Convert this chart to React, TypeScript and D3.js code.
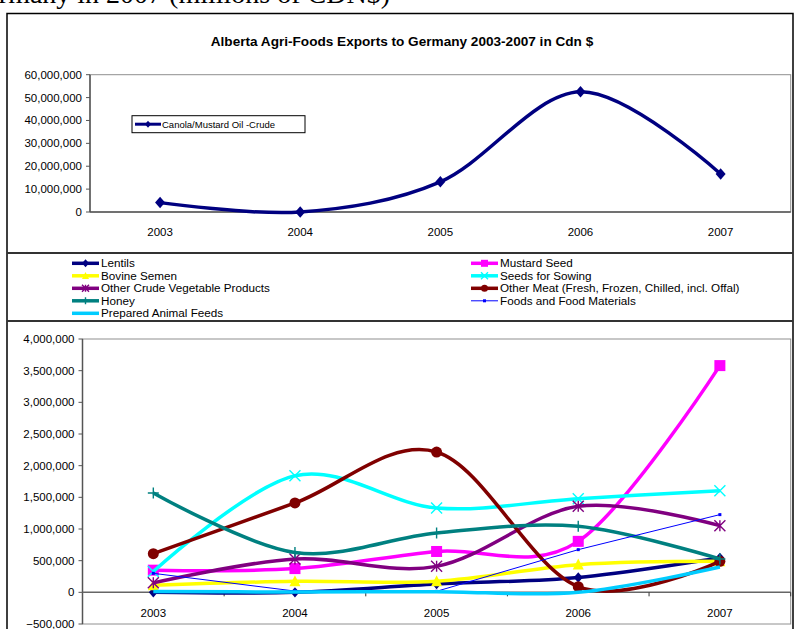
import React from "react";
import * as d3 from "d3";

const years = ["2003", "2004", "2005", "2006", "2007"];
const canola = [4100000, 0, 13200000, 52500000, 16600000];
const lentils = [0, 0, 130000, 235000, 545000];
const mustard = [350000, 375000, 645000, 805000, 3580000];
const bovine = [110000, 174000, 174000, 437000, 490000];
const seeds = [330000, 1842000, 1332000, 1479000, 1605000];
const otherCrude = [150000, 527000, 410000, 1358000, 1053000];
const otherMeat = [610000, 1411000, 2215000, 90000, 490000];
const honey = [1569000, 630000, 937000, 1042000, 527000];
const foods = [300000, 20000, 16000, 674000, 1227000];
const prepared = [15000, 5000, 10000, 0, 400000];

const topTicks = [0, 10000000, 20000000, 30000000, 40000000, 50000000, 60000000];
const bottomTicks = [-500000, 0, 500000, 1000000, 1500000, 2000000, 2500000, 3000000, 3500000, 4000000];

type Series = { name: string; values: number[]; color: string; width: number; marker: string; smooth: boolean; col: number; row: number };

const series: Series[] = [
  { name: "Lentils", values: lentils, color: "#000080", width: 3.5, marker: "diamond", smooth: true, col: 0, row: 0 },
  { name: "Mustard Seed", values: mustard, color: "#FF00FF", width: 3.5, marker: "square", smooth: true, col: 1, row: 0 },
  { name: "Bovine Semen", values: bovine, color: "#FFFF00", width: 3.5, marker: "triangle", smooth: true, col: 0, row: 1 },
  { name: "Seeds for Sowing", values: seeds, color: "#00FFFF", width: 3.5, marker: "x", smooth: true, col: 1, row: 1 },
  { name: "Other Crude Vegetable Products", values: otherCrude, color: "#800080", width: 3.5, marker: "asterisk", smooth: true, col: 0, row: 2 },
  { name: "Other Meat (Fresh, Frozen, Chilled, incl. Offal)", values: otherMeat, color: "#800000", width: 3.5, marker: "circle", smooth: true, col: 1, row: 2 },
  { name: "Honey", values: honey, color: "#008080", width: 3.5, marker: "plus", smooth: true, col: 0, row: 3 },
  { name: "Foods and Food Materials", values: foods, color: "#0000FF", width: 1, marker: "dot", smooth: false, col: 1, row: 3 },
  { name: "Prepared Animal Feeds", values: prepared, color: "#00CCFF", width: 3.5, marker: "none", smooth: true, col: 0, row: 4 },
];

const FONT = "'Liberation Sans', Arial, sans-serif";
const fmt = d3.format(",");

function Marker({ type, x, y, s, color }: { type: string; x: number; y: number; s: number; color: string }) {
  const h = s / 2;
  switch (type) {
    case "diamond":
      return <path d={`M${x},${y - h * 1.15}L${x + h},${y}L${x},${y + h * 1.15}L${x - h},${y}Z`} fill={color} />;
    case "square":
      return <rect x={x - h} y={y - h} width={s} height={s} fill={color} />;
    case "triangle":
      return <path d={`M${x},${y - h * 1.1}L${x + h},${y + h * 0.9}L${x - h},${y + h * 0.9}Z`} fill={color} />;
    case "circle":
      return <circle cx={x} cy={y} r={h} fill={color} />;
    case "x":
      return <path d={`M${x - h},${y - h}L${x + h},${y + h}M${x - h},${y + h}L${x + h},${y - h}`} stroke={color} strokeWidth={1.4} fill="none" />;
    case "asterisk":
      return <path d={`M${x - h},${y - h}L${x + h},${y + h}M${x - h},${y + h}L${x + h},${y - h}M${x},${y - h}L${x},${y + h}`} stroke={color} strokeWidth={1.4} fill="none" />;
    case "plus":
      return <path d={`M${x - h},${y}L${x + h},${y}M${x},${y - h}L${x},${y + h}`} stroke={color} strokeWidth={1.4} fill="none" />;
    case "dot":
      return <rect x={x - 1.5} y={y - 1.5} width={3} height={3} fill={color} />;
    default:
      return null;
  }
}

export default function App() {
  // top chart
  const tL = 90, tR = 790.7, tT = 74.7, tB = 212;
  const tx = d3.scalePoint<string>().domain(years).range([tL, tR]).padding(0.5);
  const ty = d3.scaleLinear().domain([0, 60000000]).range([tB, tT]);
  const smoothLine = (xs: d3.ScalePoint<string>, ys: d3.ScaleLinear<number, number>, smooth: boolean) =>
    d3.line<number>()
      .x((_, i) => xs(years[i]) as number)
      .y((v) => ys(v))
      .curve(smooth ? d3.curveCardinal.tension(0) : d3.curveLinear);

  // bottom chart
  const bL = 82.5, bR = 790.7, bT = 339, bB = 624;
  const bx = d3.scalePoint<string>().domain(years).range([bL, bR]).padding(0.5);
  const by = d3.scaleLinear().domain([-500000, 4000000]).range([bB, bT]);
  const step = bx.step();

  const markerSize: Record<string, number> = { diamond: 9, square: 11, triangle: 11, circle: 11, x: 11, asterisk: 11, plus: 11, dot: 3, none: 0 };

  return (
    <svg width={794} height={629} style={{ position: "absolute", left: 0, top: 0, background: "#fff" }} fontFamily={FONT}>
      <rect x={0} y={0} width={794} height={629} fill="#fff" />
      <text x={390} y={3} textAnchor="end" fontFamily="'Liberation Serif', 'Times New Roman', serif" fontSize={28}>
        Germany in 2007 (millions of CDN$)
      </text>

      {/* outer frame */}
      <path d="M7,629V13.5H793V629" fill="none" stroke="#000" strokeWidth={1.5} />
      <line x1={7} x2={793} y1={253} y2={253} stroke="#333" strokeWidth={2} />
      <line x1={7} x2={793} y1={321} y2={321} stroke="#333" strokeWidth={2} />

      {/* title */}
      <text x={402} y={45.5} textAnchor="middle" fontWeight="bold" fontSize={13.6}>
        Alberta Agri-Foods Exports to Germany 2003-2007 in Cdn $
      </text>

      {/* top plot area */}
      <rect x={tL} y={tT} width={tR - tL} height={tB - tT} fill="none" stroke="#909090" strokeWidth={1} />
      <line x1={tL} x2={tL} y1={tT} y2={tB} stroke="#555" strokeWidth={1.5} />
      <line x1={tL} x2={tR} y1={tB} y2={tB} stroke="#555" strokeWidth={1.5} />
      {topTicks.map((t) => (
        <g key={t}>
          <line x1={tL - 4} x2={tL} y1={ty(t)} y2={ty(t)} stroke="#555" strokeWidth={1} />
          <text x={tL - 8} y={ty(t)} dy="0.35em" textAnchor="end" fontSize={11.5}>{fmt(t)}</text>
        </g>
      ))}
      {years.map((yr) => (
        <text key={yr} x={tx(yr)} y={232} dy="0.35em" textAnchor="middle" fontSize={11.5}>{yr}</text>
      ))}
      <path d={smoothLine(tx, ty, true)(canola) || ""} fill="none" stroke="#000080" strokeWidth={3.5} />
      {canola.map((v, i) => (
        <Marker key={i} type="diamond" x={tx(years[i]) as number} y={ty(v)} s={10} color="#000080" />
      ))}
      {/* top legend */}
      <rect x={132} y={115.7} width={173} height={17} fill="#fff" stroke="#000" strokeWidth={1} />
      <line x1={135} x2={161} y1={124.2} y2={124.2} stroke="#000080" strokeWidth={3} />
      <Marker type="diamond" x={148} y={124.2} s={6} color="#000080" />
      <text x={162} y={124.2} dy="0.35em" fontSize={9.5}>Canola/Mustard Oil -Crude</text>

      {/* middle legend */}
      {series.map((s) => {
        const lx = s.col === 0 ? 72 : 471;
        const ly = 263.3 + s.row * 12.5;
        return (
          <g key={s.name}>
            <line x1={lx} x2={lx + 27} y1={ly} y2={ly} stroke={s.color} strokeWidth={s.width === 1 ? 1 : 3.5} />
            <Marker type={s.marker} x={lx + 13.5} y={ly} s={s.marker === "dot" ? 3 : 7} color={s.color} />
            <text x={lx + 29} y={ly} dy="0.35em" fontSize={11.7}>{s.name}</text>
          </g>
        );
      })}

      {/* bottom plot area */}
      <rect x={bL} y={bT} width={bR - bL} height={bB - bT} fill="none" stroke="#909090" strokeWidth={1} />
      <line x1={bL} x2={bL} y1={bT} y2={bB} stroke="#555" strokeWidth={1.5} />
      {bottomTicks.map((t) => (
        <g key={t}>
          <line x1={bL - 4} x2={bL} y1={by(t)} y2={by(t)} stroke="#555" strokeWidth={1} />
          <text x={bL - 8} y={by(t)} dy="0.35em" textAnchor="end" fontSize={11.5}>{fmt(t)}</text>
        </g>
      ))}
      <line x1={bL} x2={bR} y1={by(0)} y2={by(0)} stroke="#666" strokeWidth={1.5} />
      {years.map((yr, i) => (
        <line key={"t" + yr} x1={bL + step * (i + 1)} x2={bL + step * (i + 1)} y1={by(0)} y2={by(0) + 4} stroke="#333" strokeWidth={1} />
      ))}
      {years.map((yr) => (
        <text key={yr} x={bx(yr)} y={613} dy="0.35em" textAnchor="middle" fontSize={11.5}>{yr}</text>
      ))}
      {series.map((s) => (
        <g key={s.name}>
          <path d={smoothLine(bx, by, s.smooth)(s.values) || ""} fill="none" stroke={s.color} strokeWidth={s.width} />
          {s.values.map((v, i) => (
            <Marker key={i} type={s.marker} x={bx(years[i]) as number} y={by(v)} s={markerSize[s.marker]} color={s.color} />
          ))}
        </g>
      ))}
    </svg>
  );
}
